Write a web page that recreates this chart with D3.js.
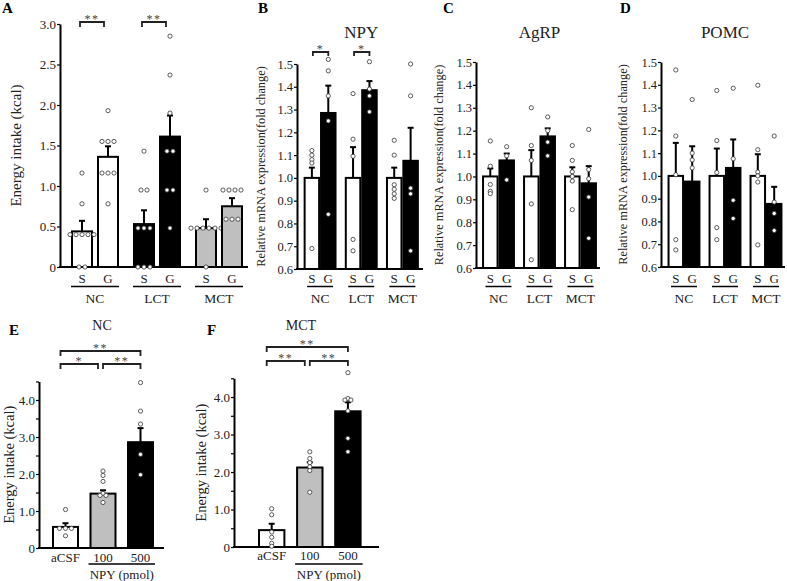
<!DOCTYPE html>
<html>
<head>
<meta charset="utf-8">
<script src="https://cdn.jsdelivr.net/npm/d3@7"></script>
<style>
body { margin: 0; background: #fff; }
svg { display: block; font-family: "Liberation Serif", "Times New Roman", Times, serif; }
</style>
</head>
<body>
<svg width="787" height="581"></svg>
<script>
var groups = ["NC", "LCT", "MCT"];
var diets = ["S", "G"];
var doses = ["aCSF", "100", "500"];

// A: energy intake, [S, G] per diet group
var intakeMean = [[0.44, 0.53, 0.48], [1.36, 1.61, 0.75]];
var intakeSem = [[0.13, 0.17, 0.11], [0.13, 0.26, 0.10]];
var intakePtsS = [[0, 0, 0.40, 0.40, 0.40, 0.40, 0.40, 0.78, 1.16], [1.43, 0.95, 0.95, 0.48, 0.48, 0.48, 0, 0, 0], [0.95, 0.48, 0.48, 0.48, 0.48, 0.48, 0.48, 0]];
var intakePtsG = [[1.93, 1.55, 1.55, 1.55, 1.16, 1.16, 1.16, 0.78], [2.85, 2.37, 1.90, 1.43, 1.43, 0.95, 0.95, 0.48], [0.95, 0.95, 0.95, 0.95, 0.59, 0.59, 0.59]];
var intakeTicks = [0, 0.5, 1, 1.5, 2, 2.5, 3];

// B-D: relative mRNA expression
var mrnaTicks = [0.6, 0.7, 0.8, 0.9, 1.0, 1.1, 1.2, 1.3, 1.4, 1.5];
var npyMean = [[1.0, 1.0, 1.0], [1.285, 1.385, 1.075]];
var npySem = [[0.045, 0.135, 0.045], [0.12, 0.04, 0.145]];
var npyPtsS = [[1.12, 1.10, 1.08, 1.065, 0.69], [1.37, 1.17, 1.095, 0.73, 0.68], [1.165, 1.10, 0.97, 0.95, 0.93, 0.91]];
var npyPtsG = [[1.52, 1.47, 1.36, 1.25, 0.84], [1.51, 1.39, 1.36, 1.29], [1.50, 1.36, 0.955, 0.93, 0.68]];

var agrpMean = [[1.0, 1.0, 1.0], [1.07, 1.175, 0.97]];
var agrpSem = [[0.035, 0.115, 0.04], [0.03, 0.035, 0.075]];
var agrpPtsS = [[1.155, 1.045, 0.965, 0.935, 0.925], [1.30, 1.135, 1.07, 0.88, 0.636], [1.135, 1.07, 1.02, 1.0, 0.98, 0.855]];
var agrpPtsG = [[1.13, 1.09, 0.985], [1.26, 1.20, 1.15, 1.09], [1.205, 1.03, 0.99, 0.91, 0.73]];

var pomcMean = [[1.0, 1.0, 1.0], [0.975, 1.035, 0.877]];
var pomcSem = [[0.145, 0.12, 0.095], [0.155, 0.125, 0.075]];
var pomcPtsS = [[1.465, 1.175, 1.005, 0.72, 0.675], [1.375, 1.155, 1.015, 0.773, 0.72], [1.398, 1.115, 1.017, 1.0, 0.973, 0.697]];
var pomcPtsG = [[1.335, 1.10, 1.07, 1.035], [1.385, 1.075, 0.893, 0.813], [1.175, 0.885, 0.835, 0.76]];

// E, F: NPY dose response
var doseTicks = [0, 0.5, 1, 1.5, 2, 2.5, 3, 3.5, 4, 4.5];
var ncDoseMean = [0.57, 1.47, 2.86];
var ncDoseSem = [0.10, 0.09, 0.38];
var ncDosePts = [[1.04, 0.53, 0.53, 0.53, 0.33], [2.08, 1.96, 1.80, 1.48, 1.42, 1.42, 1.23], [4.47, 3.70, 3.35, 2.53, 1.98]];
var mctDoseMean = [0.45, 2.12, 3.62];
var mctDoseSem = [0.17, 0.14, 0.24];
var mctDosePts = [[1.02, 0.86, 0.40, 0.26, 0.10, 0.02], [2.54, 2.36, 2.25, 2.14, 2.04, 1.46], [4.65, 3.96, 3.92, 3.92, 3.63, 2.90, 2.54]];

var svg = d3.select("svg");
var grey = "#bfbfbf";

function fmtTick(d) {
  return d === 0 ? "0" : d3.format(".1f")(d);
}

// spread equal values side by side
function dodge(vals, cx, y, gap) {
  var out = [];
  d3.groups(vals, function(v) { return v; }).forEach(function(grp) {
    var n = grp[1].length;
    for (var k = 0; k < n; k++) {
      out.push({ x: cx + (k - (n - 1) / 2) * gap, y: y(grp[0]) });
    }
  });
  return out;
}

function drawBar(g, cx, w, y, base, mean, sem, fill, pts, gap) {
  g.append("line")
    .attr("x1", cx).attr("x2", cx)
    .attr("y1", y(mean)).attr("y2", y(mean + sem))
    .attr("stroke", "#000").attr("stroke-width", 2);
  g.append("line")
    .attr("x1", cx - 3).attr("x2", cx + 3)
    .attr("y1", y(mean + sem)).attr("y2", y(mean + sem))
    .attr("stroke", "#000").attr("stroke-width", 2);
  g.append("rect")
    .attr("x", cx - w / 2).attr("width", w)
    .attr("y", y(mean)).attr("height", y(base) - y(mean))
    .attr("fill", fill).attr("stroke", "#000").attr("stroke-width", 2);
  g.selectAll(null).data(dodge(pts, cx, y, gap)).enter()
    .append("circle")
    .attr("cx", function(d) { return d.x; })
    .attr("cy", function(d) { return d.y; })
    .attr("r", 2.1)
    .attr("fill", "#fff").attr("stroke", "#333").attr("stroke-width", 0.8);
}

function yAxis(g, p, y, tickFmt) {
  var ax = g.append("g")
    .attr("transform", "translate(" + p.ax + ",0)")
    .call(d3.axisLeft(y).tickValues(p.ticks).tickFormat(tickFmt).tickSize(3).tickSizeOuter(0));
  ax.select(".domain").attr("stroke-width", 2);
  ax.selectAll(".tick line").attr("stroke-width", 1.2);
  ax.selectAll(".tick text")
    .attr("font-size", p.tickSize)
    .attr("fill", "#222").attr("x", -4);
  ax.attr("font-family", null);
  g.append("line")
    .attr("x1", p.ax - 1).attr("x2", p.xEnd)
    .attr("y1", y(p.domain[0])).attr("y2", y(p.domain[0]))
    .attr("stroke", "#000").attr("stroke-width", 2);
  g.append("text")
    .attr("transform", "translate(" + p.labelX + "," + (y.range()[0] + y.range()[1]) / 2 + ") rotate(-90)")
    .attr("text-anchor", "middle")
    .attr("font-size", p.labelSize)
    .attr("fill", "#222")
    .text(p.label);
}

function bracket(g, x1, x2, yb, drop, stars) {
  g.append("path")
    .attr("d", "M" + x1 + "," + (yb + drop) + "V" + yb + "H" + x2 + "V" + (yb + drop))
    .attr("fill", "none").attr("stroke", "#222").attr("stroke-width", 1.8);
  g.append("text")
    .attr("x", (x1 + x2) / 2).attr("y", yb + 1)
    .attr("text-anchor", "middle")
    .attr("font-size", 12).attr("letter-spacing", 1.5)
    .attr("fill", "#444")
    .text(stars);
}

function letter(txt, x, yy) {
  svg.append("text")
    .attr("x", x).attr("y", yy)
    .attr("font-size", 15).attr("font-weight", "bold")
    .text(txt);
}

function drawPairPanel(p) {
  var g = svg.append("g");
  var y = d3.scaleLinear().domain(p.domain).range(p.yr);
  var x = d3.scaleBand().domain(groups).range(p.xr);
  var xi = d3.scalePoint().domain(diets).range([-p.off, p.off]);
  yAxis(g, p, y, fmtTick);

  diets.forEach(function(dt, k) {
    groups.forEach(function(gr, i) {
      var cx = x(gr) + x.bandwidth() / 2 + xi(dt);
      drawBar(g, cx, p.bw, y, p.domain[0], p.mean[k][i], p.sem[k][i], p.fill(k, i), p.pts[k][i], p.gap);
      g.append("text")
        .attr("x", cx).attr("y", 283)
        .attr("text-anchor", "middle").attr("font-size", 13).attr("fill", "#222")
        .text(dt);
    });
  });
  groups.forEach(function(gr) {
    var c = x(gr) + x.bandwidth() / 2;
    g.append("line")
      .attr("x1", c - p.ul).attr("x2", c + p.ul)
      .attr("y1", 286.5).attr("y2", 286.5)
      .attr("stroke", "#000").attr("stroke-width", 1.5);
    g.append("text")
      .attr("x", c).attr("y", 303)
      .attr("text-anchor", "middle").attr("font-size", 13.5).attr("fill", "#222")
      .text(gr);
  });
  if (p.title) {
    g.append("text")
      .attr("x", (p.xr[0] + p.xr[1]) / 2).attr("y", 38)
      .attr("text-anchor", "middle").attr("font-size", 17).attr("fill", "#222")
      .text(p.title);
  }
  (p.sig || []).forEach(function(s) {
    var c = x(s[0]) + x.bandwidth() / 2;
    bracket(g, c + xi("S") + p.sigDx[0], c + xi("G") + p.sigDx[1], p.sigY, p.sigDrop, s[1]);
  });
}

function drawDosePanel(p) {
  var g = svg.append("g");
  var y = d3.scaleLinear().domain(p.domain).range(p.yr);
  var x = d3.scaleBand().domain(doses).range(p.xr).padding(1 / 3);
  var fills = ["#fff", grey, "#000"];
  var cx = function(d) { return x(d) + x.bandwidth() / 2; };
  yAxis(g, p, y, function(d) { return d % 1 === 0 ? fmtTick(d) : ""; });

  doses.forEach(function(d, i) {
    drawBar(g, cx(d), x.bandwidth(), y, 0, p.mean[i], p.sem[i], fills[i], p.pts[i], 6);
    g.append("text")
      .attr("x", cx(d)).attr("y", p.tickY)
      .attr("text-anchor", "middle").attr("font-size", 13).attr("fill", "#222")
      .text(d);
  });
  g.append("line")
    .attr("x1", x("100") - 2).attr("x2", x("500") + x.bandwidth() + 2)
    .attr("y1", 564).attr("y2", 564)
    .attr("stroke", "#000").attr("stroke-width", 1.5);
  g.append("text")
    .attr("x", (cx("100") + cx("500")) / 2).attr("y", 579)
    .attr("text-anchor", "middle").attr("font-size", 13).attr("fill", "#222")
    .text("NPY (pmol)");
  g.append("text")
    .attr("x", p.titleX).attr("y", 330)
    .attr("text-anchor", "middle").attr("font-size", 14).attr("fill", "#222")
    .text(p.title);

  bracket(g, cx("aCSF") - 5, cx("500"), p.sigY[0], 5, p.sig[0]);
  bracket(g, cx("aCSF") - 5, cx("100") - 5, p.sigY[1], 5, p.sig[1]);
  bracket(g, cx("100"), cx("500"), p.sigY[1], 5, p.sig[2]);
}

drawPairPanel({
  ax: 60, xEnd: 248, domain: [0, 3], yr: [267, 24], ticks: intakeTicks, tickSize: 13,
  xr: [64, 250], off: 13, bw: 20, ul: 24, gap: 6,
  mean: intakeMean, sem: intakeSem, pts: [intakePtsS, intakePtsG],
  fill: function(k, i) { return ["#fff", "#000", grey][i]; },
  label: "Energy intake (kcal)", labelX: 21, labelSize: 15,
  sig: [["NC", "**"], ["LCT", "**"]], sigY: 22, sigDrop: 5, sigDx: [-2, -4]
});

drawPairPanel({
  ax: 297, xEnd: 423, domain: [0.6, 1.5], yr: [269, 64], ticks: mrnaTicks, tickSize: 12.5,
  xr: [299.5, 423], off: 8.2, bw: 14.5, ul: 13, gap: 5,
  mean: npyMean, sem: npySem, pts: [npyPtsS, npyPtsG],
  fill: function(k) { return k === 0 ? "#fff" : "#000"; },
  label: "Relative mRNA expression(fold change)", labelX: 265, labelSize: 12.3,
  title: "NPY",
  sig: [["NC", "*"], ["LCT", "*"]], sigY: 52, sigDrop: 4, sigDx: [1, 0]
});

drawPairPanel({
  ax: 476, xEnd: 600, domain: [0.6, 1.5], yr: [268, 62], ticks: mrnaTicks, tickSize: 12.5,
  xr: [478, 601], off: 8.2, bw: 14.5, ul: 13, gap: 5,
  mean: agrpMean, sem: agrpSem, pts: [agrpPtsS, agrpPtsG],
  fill: function(k) { return k === 0 ? "#fff" : "#000"; },
  label: "Relative mRNA expression(fold change)", labelX: 443, labelSize: 12.3,
  title: "AgRP"
});

drawPairPanel({
  ax: 661, xEnd: 785, domain: [0.6, 1.5], yr: [267, 62], ticks: mrnaTicks, tickSize: 12.5,
  xr: [663.5, 786.5], off: 8.2, bw: 14.5, ul: 13, gap: 5,
  mean: pomcMean, sem: pomcSem, pts: [pomcPtsS, pomcPtsG],
  fill: function(k) { return k === 0 ? "#fff" : "#000"; },
  label: "Relative mRNA expression(fold change)", labelX: 627, labelSize: 12.3,
  title: "POMC"
});

drawDosePanel({
  ax: 39, xEnd: 164, domain: [0, 4.5], yr: [548, 381.5], ticks: doseTicks, tickSize: 13,
  xr: [40.5, 165.5], tickY: 562,
  mean: ncDoseMean, sem: ncDoseSem, pts: ncDosePts,
  label: "Energy intake (kcal)", labelX: 13.5, labelSize: 14.5,
  title: "NC", titleX: 102,
  sig: ["**", "*", "**"], sigY: [351, 364]
});

drawDosePanel({
  ax: 234, xEnd: 379, domain: [0, 4.5], yr: [547, 378.3], ticks: doseTicks, tickSize: 13,
  xr: [246.3, 373.3], tickY: 560,
  mean: mctDoseMean, sem: mctDoseSem, pts: mctDosePts,
  label: "Energy intake (kcal)", labelX: 206, labelSize: 14.5,
  title: "MCT", titleX: 301,
  sig: ["**", "**", "**"], sigY: [347, 361]
});

letter("A", 2, 13);
letter("B", 258, 13);
letter("C", 443, 13);
letter("D", 620, 13);
letter("E", 9, 335);
letter("F", 207, 335);
</script>
</body>
</html>
